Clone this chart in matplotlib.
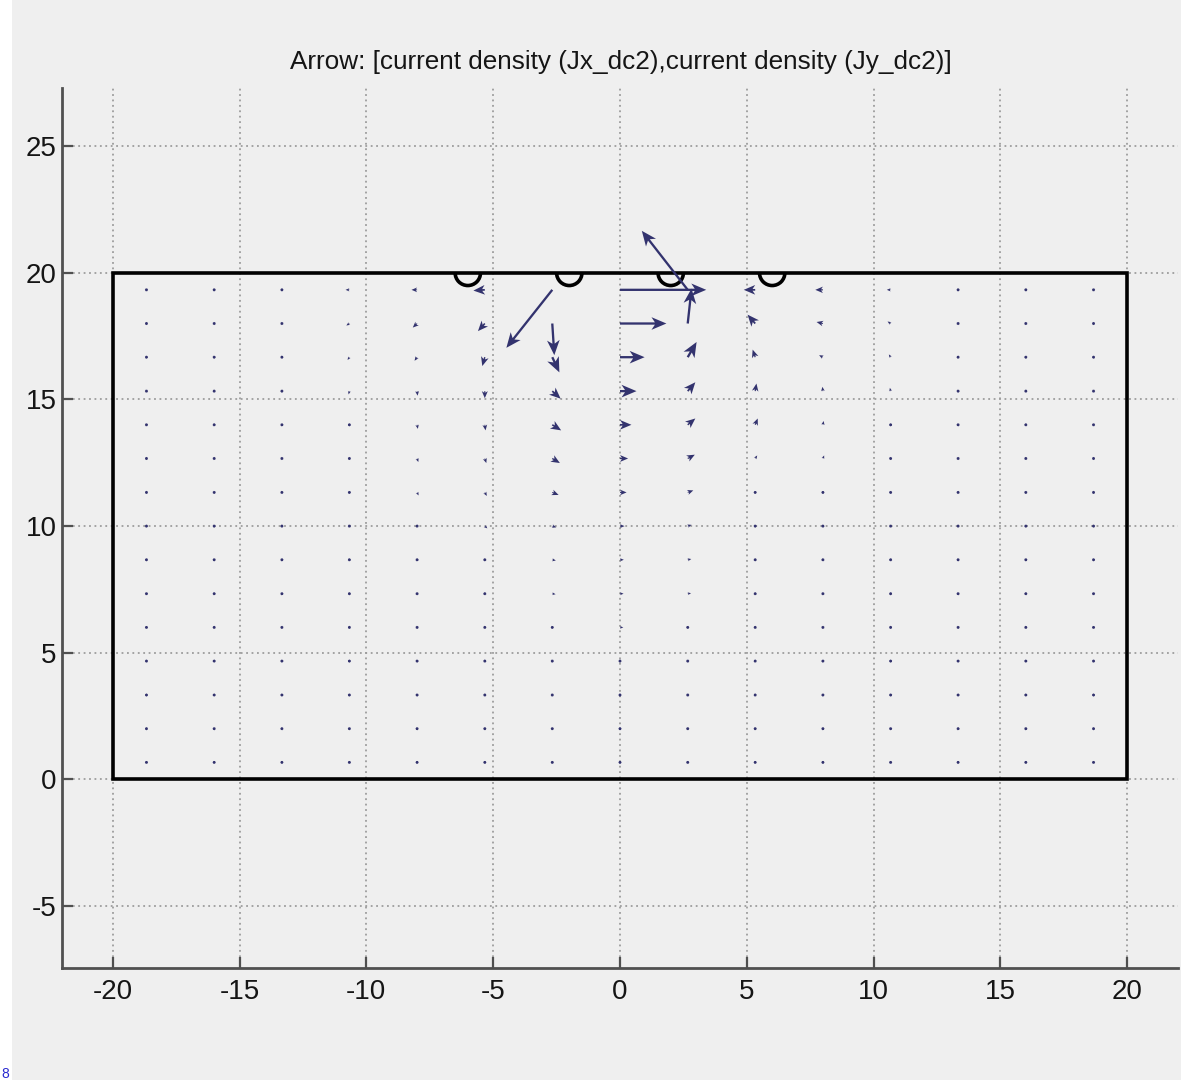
import numpy as np
import matplotlib
matplotlib.use("Agg")
import matplotlib.pyplot as plt
from matplotlib.patches import Rectangle, Arc

plt.rcParams['font.family'] = ['Liberation Sans', 'DejaVu Sans']

# ---------------- data ----------------
title = "Arrow: [current density (Jx_dc2),current density (Jy_dc2)]"
x_ticks = [-20, -15, -10, -5, 0, 5, 10, 15, 20]
y_ticks = [-5, 0, 5, 10, 15, 20, 25]

domain_x = [-20, 20]
domain_y = [0, 20]
electrode_x = [-6, -2, 2, 6]
electrode_r = 0.5

# arrow sample positions
arrow_x = [-18.67, -16.0, -13.33, -10.67, -8.0, -5.33, -2.67, 0.0,
           2.67, 5.33, 8.0, 10.67, 13.33, 16.0, 18.67]
arrow_y = [19.33, 18.0, 16.67, 15.33, 14.0, 12.67, 11.33, 10.0,
           8.67, 7.33, 6.0, 4.67, 3.33, 2.0, 0.67]   # top to bottom

# Jx (rows top -> bottom, columns left -> right), in plot units
jx = [
    [-0.06, -0.08, -0.10, -0.15, -0.22, -0.45, -1.81, 3.40, -1.81, -0.45, -0.30, -0.15, -0.10, -0.08, -0.06],
    [-0.05, -0.07, -0.09, -0.12, -0.17, -0.27, 0.08, 1.83, 0.15, -0.30, -0.25, -0.12, -0.09, -0.07, -0.05],
    [-0.04, -0.05, -0.06, -0.07, -0.10, -0.10, 0.28, 0.97, 0.35, -0.10, -0.15, -0.07, -0.06, -0.05, -0.04],
    [-0.03, -0.03, -0.03, -0.03, 0.02, 0.00, 0.33, 0.65, 0.30, 0.05, -0.02, -0.03, -0.03, -0.03, -0.03],
    [-0.02, -0.02, -0.02, 0.00, 0.03, 0.03, 0.35, 0.45, 0.30, 0.10, 0.03, 0.00, -0.02, -0.02, -0.02],
    [0.00, -0.01, 0.00, 0.02, 0.05, 0.06, 0.30, 0.32, 0.28, 0.08, 0.05, 0.02, 0.00, -0.01, 0.00],
    [0.00, 0.01, 0.02, 0.03, 0.06, 0.08, 0.25, 0.26, 0.22, 0.07, 0.06, 0.03, 0.02, 0.01, 0.00],
    [0.01, 0.02, 0.03, 0.05, 0.08, 0.10, 0.16, 0.18, 0.15, 0.09, 0.08, 0.05, 0.03, 0.02, 0.01],
    [0.01, 0.02, 0.04, 0.06, 0.08, 0.11, 0.14, 0.15, 0.14, 0.11, 0.08, 0.06, 0.04, 0.02, 0.01],
    [0.02, 0.03, 0.05, 0.07, 0.09, 0.11, 0.13, 0.14, 0.13, 0.11, 0.09, 0.07, 0.05, 0.03, 0.02],
    [0.02, 0.03, 0.05, 0.07, 0.09, 0.10, 0.12, 0.13, 0.12, 0.10, 0.09, 0.07, 0.05, 0.03, 0.02],
    [0.02, 0.03, 0.05, 0.06, 0.08, 0.09, 0.11, 0.12, 0.11, 0.09, 0.08, 0.06, 0.05, 0.03, 0.02],
    [0.02, 0.03, 0.04, 0.06, 0.07, 0.09, 0.10, 0.11, 0.10, 0.09, 0.07, 0.06, 0.04, 0.03, 0.02],
    [0.02, 0.03, 0.04, 0.05, 0.07, 0.08, 0.09, 0.10, 0.09, 0.08, 0.07, 0.05, 0.04, 0.03, 0.02],
    [0.02, 0.03, 0.04, 0.05, 0.06, 0.07, 0.08, 0.09, 0.08, 0.07, 0.06, 0.05, 0.04, 0.03, 0.02],
]
# Jy
jy = [
    [0.00, 0.00, 0.00, 0.00, 0.00, -0.03, -2.29, 0.00, 2.33, 0.00, 0.00, 0.00, 0.00, 0.00, 0.00],
    [-0.03, -0.04, -0.05, -0.08, -0.16, -0.30, -1.25, 0.00, 1.38, 0.35, 0.06, 0.08, 0.05, 0.04, 0.03],
    [-0.04, -0.05, -0.07, -0.11, -0.14, -0.35, -0.60, 0.00, 0.60, 0.30, 0.08, 0.11, 0.07, 0.05, 0.04],
    [-0.05, -0.06, -0.08, -0.13, -0.18, -0.28, -0.30, 0.00, 0.35, 0.30, 0.17, 0.13, 0.08, 0.06, 0.05],
    [-0.05, -0.06, -0.08, -0.12, -0.16, -0.22, -0.22, 0.00, 0.25, 0.25, 0.15, 0.12, 0.08, 0.06, 0.05],
    [-0.05, -0.06, -0.08, -0.11, -0.14, -0.18, -0.18, 0.00, 0.15, 0.12, 0.12, 0.11, 0.08, 0.06, 0.05],
    [-0.05, -0.06, -0.07, -0.10, -0.12, -0.14, -0.10, 0.00, 0.08, 0.10, 0.11, 0.10, 0.07, 0.06, 0.05],
    [-0.04, -0.05, -0.06, -0.08, -0.09, -0.09, -0.05, 0.00, 0.05, 0.08, 0.09, 0.08, 0.06, 0.05, 0.04],
    [-0.04, -0.05, -0.05, -0.06, -0.07, -0.06, -0.03, 0.00, 0.03, 0.06, 0.07, 0.06, 0.05, 0.05, 0.04],
    [-0.03, -0.04, -0.05, -0.05, -0.05, -0.04, -0.02, 0.00, 0.02, 0.04, 0.05, 0.05, 0.05, 0.04, 0.03],
    [-0.03, -0.03, -0.04, -0.04, -0.04, -0.03, -0.01, 0.00, 0.01, 0.03, 0.04, 0.04, 0.04, 0.03, 0.03],
    [-0.02, -0.02, -0.03, -0.03, -0.03, -0.02, -0.01, 0.00, 0.01, 0.02, 0.03, 0.03, 0.03, 0.02, 0.02],
    [-0.01, -0.02, -0.02, -0.02, -0.02, -0.01, 0.00, 0.00, 0.00, 0.01, 0.02, 0.02, 0.02, 0.02, 0.01],
    [-0.01, -0.01, -0.01, -0.01, -0.01, 0.00, 0.00, 0.00, 0.00, 0.00, 0.01, 0.01, 0.01, 0.01, 0.01],
    [0.00, 0.00, 0.00, 0.00, 0.00, 0.00, 0.00, 0.00, 0.00, 0.00, 0.00, 0.00, 0.00, 0.00, 0.00],
]

# ---------------- figure ----------------
BG = '#efefef'
fig = plt.figure(figsize=(11.81, 10.80), dpi=100, facecolor=BG)
fig.patches.append(Rectangle((0, 0), 12 / 1181, 1, transform=fig.transFigure,
                             facecolor='white', edgecolor='none', zorder=-10))

ax = fig.add_axes([62 / 1181, 1 - 968 / 1080, 1116 / 1181, 880 / 1080])
ax.set_facecolor(BG)
ax.set_xlim(-22, 22)
ax.set_ylim(-7.45, 27.3)

ax.set_axisbelow(True)
ax.grid(True, linestyle=(0, (1, 2)), color='#9c9c9c', linewidth=1.3)

for s in ['top', 'right']:
    ax.spines[s].set_visible(False)
for s in ['left', 'bottom']:
    ax.spines[s].set_color('#505050')
    ax.spines[s].set_linewidth(2)

ax.set_xticks(x_ticks)
ax.set_yticks(y_ticks)
ax.set_xticklabels([str(v) for v in x_ticks])
ax.set_yticklabels([str(v) for v in y_ticks])
ax.tick_params(direction='in', length=8, width=1.6, color='#505050',
               labelsize=20, labelcolor='#151515')
ax.tick_params(axis='x', pad=8)
ax.tick_params(axis='y', pad=4)

# domain and electrodes
ax.add_patch(Rectangle((domain_x[0], domain_y[0]), domain_x[1] - domain_x[0],
                       domain_y[1] - domain_y[0], fill=False, edgecolor='black',
                       linewidth=2.6, zorder=3))
for ex in electrode_x:
    ax.add_patch(Arc((ex, domain_y[1]), 2 * electrode_r, 2 * electrode_r,
                     theta1=180, theta2=360, color='black', linewidth=2.6, zorder=3))

# arrows
X, Y = np.meshgrid(np.array(arrow_x), np.array(arrow_y))
ax.quiver(X, Y, np.array(jx), np.array(jy), angles='xy', scale_units='xy', scale=1,
          units='dots', width=2.3, headwidth=5.5, headlength=6.5, headaxislength=5.0,
          minlength=1.4, color='#33336e', zorder=4)

fig.text(620.5 / 1181, 1 - 62 / 1080, title, ha='center', va='center',
         fontsize=18.8, color='#151515')

fig.text(1 / 1181, 1 - 1074 / 1080, '8', ha='left', va='center', fontsize=10,
         color='#2a2ad0')

fig.savefig('out.png', dpi=100, facecolor=BG)
